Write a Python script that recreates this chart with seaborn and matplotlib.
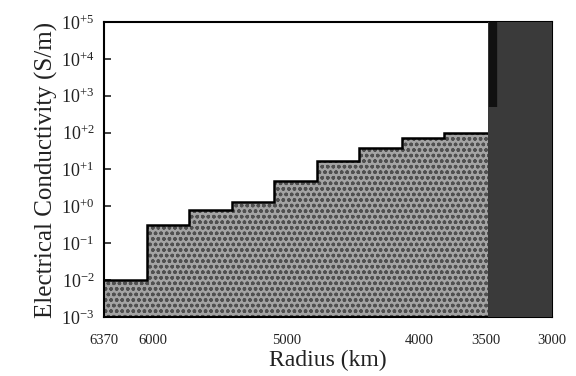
import numpy as np
import pandas as pd
import matplotlib
matplotlib.use("Agg")
import matplotlib.pyplot as plt
import seaborn as sns

# ---- data ----
layer_edges = [6370, 6050, 5730, 5410, 5090, 4770, 4450, 4130, 3810, 3480]   # km (radius)
layer_sigma = [0.010, 0.32, 0.80, 1.3, 4.8, 17, 38, 70, 96]                # S/m
core_edges = [3480, 3000]
core_sigma = 1e5
core_bar_radius = 3440
core_bar_range = [500, 1e5]
xticks = [6370, 6000, 5000, 4000, 3500, 3000]
xtick_labels = ["6370", "6000", "5000", "4000", "3500", "3000"]
yticks = [1e-3, 1e-2, 1e-1, 1e0, 1e1, 1e2, 1e3, 1e4, 1e5]
ytick_labels = [r"$10^{-3}$", r"$10^{-2}$", r"$10^{-1}$", r"$10^{+0}$", r"$10^{+1}$",
                r"$10^{+2}$", r"$10^{+3}$", r"$10^{+4}$", r"$10^{+5}$"]

sns.set_theme(style="white")
plt.rcParams["font.family"] = ["Liberation Serif", "DejaVu Serif"]
plt.rcParams["mathtext.fontset"] = "custom"
plt.rcParams["mathtext.rm"] = "Liberation Serif"
plt.rcParams["mathtext.it"] = "Liberation Serif:italic"
plt.rcParams["hatch.linewidth"] = 1.0

fig = plt.figure(figsize=(5.76, 3.76), dpi=100)
ax = fig.add_axes([0.1806, 0.157, 0.7777, 0.7845])

edges_sorted = layer_edges[::-1]
mids = [(a + b) / 2 for a, b in zip(layer_edges[:-1], layer_edges[1:])]
df = pd.DataFrame({"radius": mids, "sigma": layer_sigma})

sns.histplot(data=df, x="radius", weights="sigma", bins=edges_sorted,
             element="step", fill=True, color="#a4a4a4", alpha=1.0,
             edgecolor="#505050", linewidth=0, hatch="ooo", ax=ax, legend=False)
ax.set_yscale("log")

# outline of the layered mantle
ax.stairs(layer_sigma[::-1], edges_sorted, color="black", linewidth=1.8, baseline=None)

# core
ax.fill_between(core_edges, 1e-3, core_sigma, color="#3a3a3a", linewidth=0, zorder=3)
ax.vlines(core_bar_radius, core_bar_range[0], core_bar_range[1], color="#111111",
          linewidth=6, zorder=4)

ax.set_xlim(6370, 3000)
ax.set_ylim(1e-3, 1e5)
ax.set_xticks(xticks)
ax.set_xticklabels(xtick_labels, fontsize=10.5)
ax.set_yticks(yticks)
ax.set_yticklabels(ytick_labels, fontsize=13)
ax.minorticks_off()
ax.tick_params(axis="x", length=0, pad=12, colors="#222222")
ax.tick_params(axis="y", direction="in", length=5, width=1.2, left=True, pad=7,
               colors="#222222")
for s in ax.spines.values():
    s.set_color("black")
    s.set_linewidth(1.5)

ax.set_xlabel("Radius (km)", fontsize=17, labelpad=2, color="#222222")
ax.set_ylabel("Electrical Conductivity (S/m)", fontsize=18, labelpad=2, color="#222222")

fig.savefig("out.png", dpi=100)
